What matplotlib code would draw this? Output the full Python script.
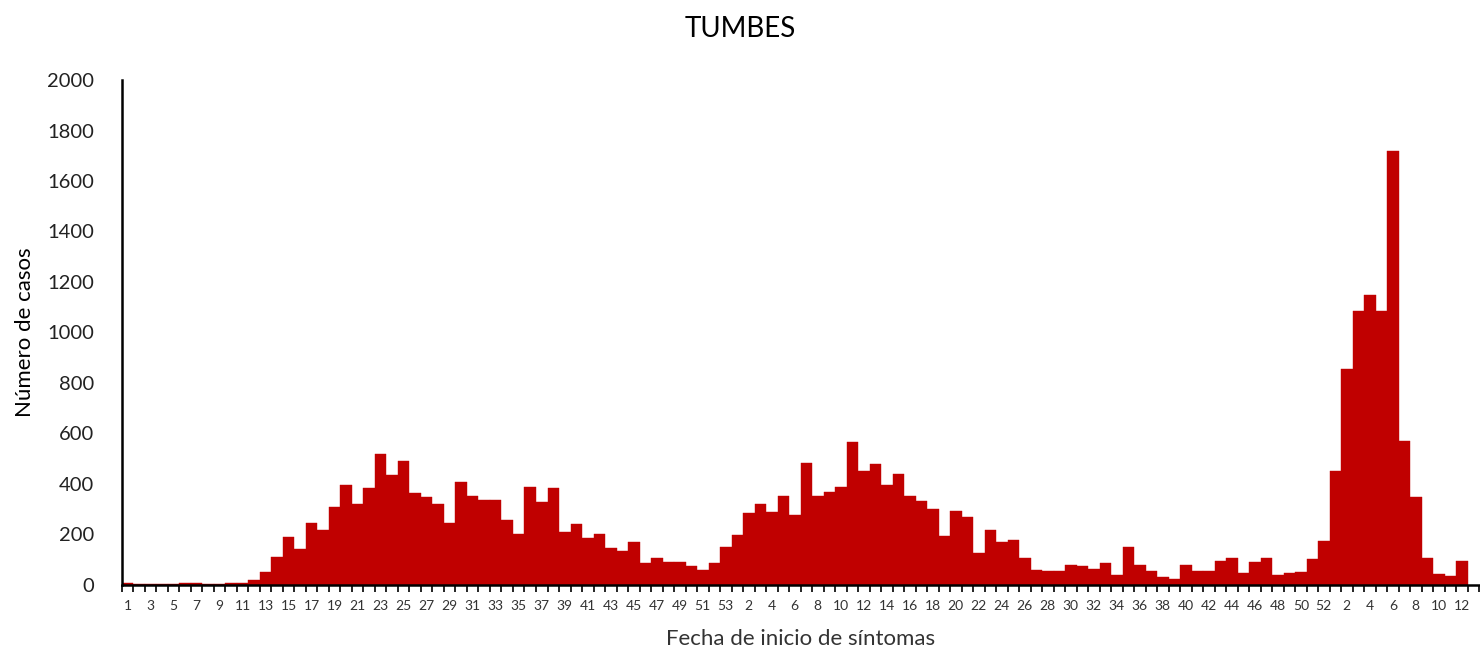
import matplotlib.pyplot as plt
import numpy as np

# weekly cases by epidemiological week (2020, 2021, 2022)
weeks_2020 = list(range(1, 54))
cases_2020 = [8, 2, 2, 2, 2, 7, 7, 2, 2, 6, 6, 18, 48, 110, 189, 140, 246, 216, 307, 393,
              318, 383, 516, 434, 490, 364, 348, 321, 246, 405, 353, 337, 337, 258, 200, 387,
              328, 383, 209, 241, 185, 200, 145, 134, 170, 84, 104, 88, 88, 73, 59, 84, 150]
weeks_2021 = list(range(1, 53))
cases_2021 = [195, 282, 321, 287, 352, 277, 484, 353, 369, 387, 566, 449, 480, 394, 440, 353,
              333, 298, 191, 292, 266, 125, 216, 170, 175, 104, 57, 52, 52, 79, 73, 63, 84, 38,
              150, 79, 52, 32, 22, 79, 52, 52, 93, 104, 47, 88, 107, 38, 46, 51, 103, 174]
weeks_2022 = list(range(1, 13))
cases_2022 = [449, 853, 1086, 1149, 1086, 1720, 569, 346, 107, 42, 35, 93]

weeks = weeks_2020 + weeks_2021 + weeks_2022
cases = cases_2020 + cases_2021 + cases_2022
x = np.arange(len(cases))

plt.rcParams['font.family'] = ['Lato', 'DejaVu Sans']

fig = plt.figure(figsize=(14.8, 6.51), dpi=100)
ax = fig.add_axes([0.0824, 0.102, 0.917, 0.775])

ax.bar(x, cases, width=1.0, color='#C00000', edgecolor='#C00000', linewidth=0.3)

# one empty slot after the last week, like the original axis
ax.set_xlim(-0.5, len(cases) + 0.5)
ax.set_ylim(0, 2000)
ax.set_yticks(range(0, 2001, 200))
ax.tick_params(axis='y', length=0, pad=20, labelsize=14.5, labelcolor='#222222')

# tick marks at category boundaries, labels on every other week
ax.set_xticks(np.arange(-0.5, len(cases) + 1, 1.0))
ax.set_xticklabels([])
ax.set_xticks(x[::2], minor=True)
ax.set_xticklabels([str(w) for w in weeks[::2]], minor=True)
ax.tick_params(axis='x', which='major', length=5, width=1.2, direction='out', color='black')
ax.tick_params(axis='x', which='minor', length=0, pad=11, labelsize=10, labelcolor='#333333')

for s in ['top', 'right']:
    ax.spines[s].set_visible(False)
ax.spines['left'].set_linewidth(1.8)
ax.spines['bottom'].set_linewidth(1.8)

ax.set_ylabel('Número de casos', fontsize=16, labelpad=9)
ax.set_xlabel('Fecha de inicio de síntomas', fontsize=16, labelpad=12, color='#333333')
fig.suptitle('TUMBES', fontsize=20, y=0.975)

fig.savefig('out.png', dpi=100)
